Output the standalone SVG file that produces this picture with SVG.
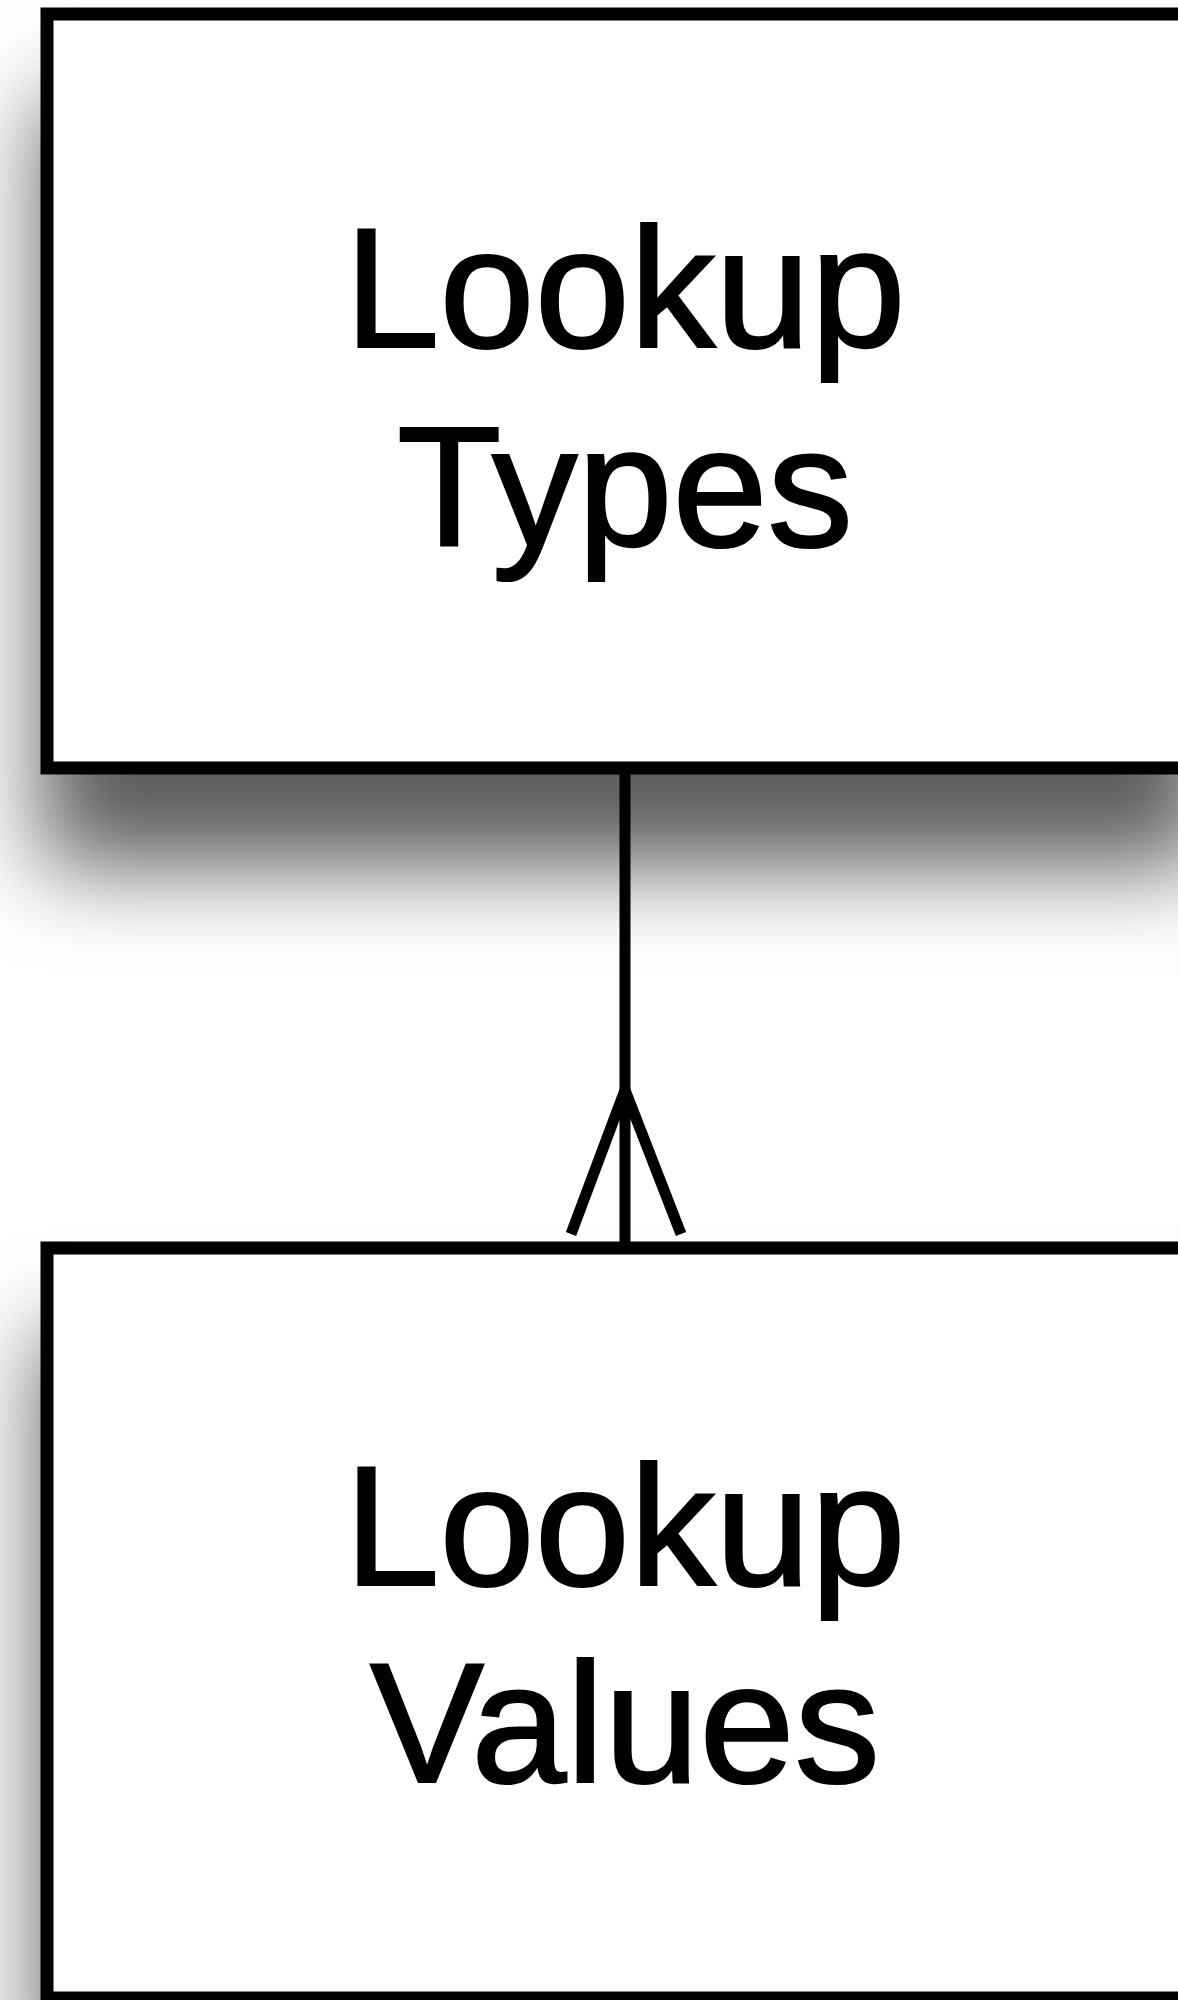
<svg xmlns="http://www.w3.org/2000/svg" width="1178" height="2000" viewBox="0 0 1178 2000">
  <defs>
    <!-- soft drop shadow cast mostly downward -->
    <filter id="shadow" x="-20%" y="-20%" width="140%" height="150%" filterUnits="objectBoundingBox">
      <feGaussianBlur in="SourceAlpha" stdDeviation="46" result="blur"/>
      <feOffset in="blur" dx="0" dy="92" result="off"/>
      <feFlood flood-color="#000" flood-opacity="0.64"/>
      <feComposite in2="off" operator="in" result="shade"/>
      <feMerge>
        <feMergeNode in="shade"/>
        <feMergeNode in="SourceGraphic"/>
      </feMerge>
    </filter>
    <style>
      .entity { fill: #ffffff; stroke: #000000; stroke-width: 13; }
      .label { font-family: "Liberation Sans", Arial, Helvetica, sans-serif; font-size: 171px; fill: #000000; stroke: #000000; stroke-width: 2.2; text-anchor: middle; }
      .rel { stroke: #000000; stroke-width: 11; fill: none; }
    </style>
  </defs>

  <rect x="0" y="0" width="1178" height="2000" fill="#ffffff"/>

  <!-- relationship: one type to many values (crow's foot at the values end) -->
  <g id="connectors">
    <line class="rel" x1="625" y1="768" x2="625" y2="1243"/>
    <line class="rel" x1="625" y1="1090" x2="571" y2="1234"/>
    <line class="rel" x1="625" y1="1090" x2="681" y2="1234"/>
  </g>

  <g id="lookup-types">
    <rect class="entity" x="47" y="14" width="1156" height="754" filter="url(#shadow)"/>
    <text class="label" x="625" y="347">Lookup</text>
    <text class="label" x="625" y="546">Types</text>
  </g>

  <g id="lookup-values">
    <rect class="entity" x="47" y="1248" width="1156" height="750" filter="url(#shadow)"/>
    <text class="label" x="625" y="1585">Lookup</text>
    <text class="label" x="625" y="1782">Values</text>
  </g>
</svg>
